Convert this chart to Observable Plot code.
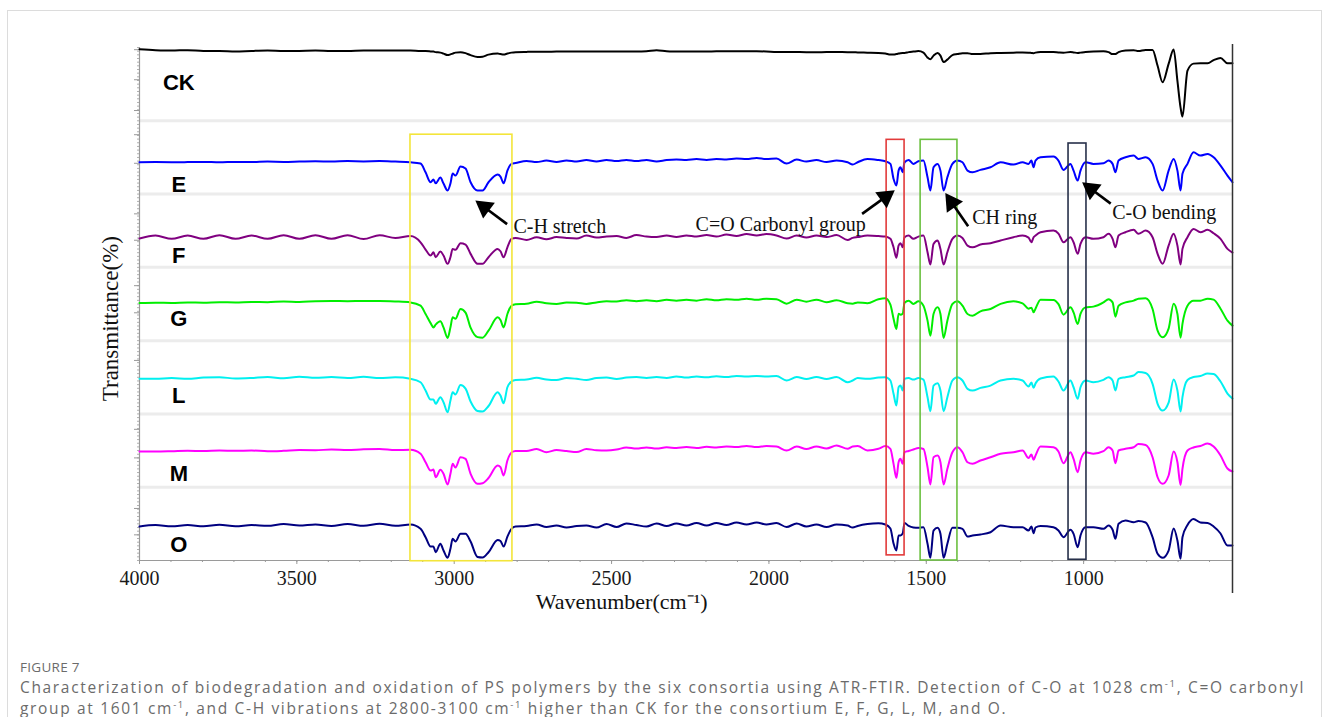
<!DOCTYPE html>
<html>
<head>
<meta charset="utf-8">
<script src="https://cdn.jsdelivr.net/npm/d3@7"></script>
<script src="https://cdn.jsdelivr.net/npm/@observablehq/plot@0.6"></script>
<style>
  html, body { margin: 0; padding: 0; background: #fff; }
  #frame { position: absolute; left: 7px; top: 10px; width: 1315px; height: 740px; border: 1px solid #dcdcdc; box-sizing: border-box; }
  #chart { position: absolute; left: 0; top: 0; }
  #caption { position: absolute; left: 20px; top: 658px; font-family: "Open Sans", sans-serif; color: #6b6b6b; white-space: nowrap; }
  #caption .fig { font-size: 13.5px; letter-spacing: 0.3px; line-height: 18px; }
  #caption .txt { font-size: 15.5px; line-height: 21px; margin-top: 1px; }
  #caption .txt span { display: inline-block; line-height: 21px; }
  #caption sup { font-size: 9.5px; line-height: 0; vertical-align: 6px; }
</style>
</head>
<body>
<div id="frame"></div>
<div id="chart"></div>
<div id="caption">
  <div class="fig">FIGURE 7</div>
  <div class="txt"><span id="cap1">Characterization of biodegradation and oxidation of PS polymers by the six consortia using ATR-FTIR. Detection of C-O at 1028 cm<sup>-1</sup>, C=O carbonyl</span><br><span id="cap2">group at 1601 cm<sup>-1</sup>, and C-H vibrations at 2800-3100 cm<sup>-1</sup> higher than CK for the consortium E, F, G, L, M, and O.</span></div>
</div>
<script>
// ---------- data ----------
const wavenumbers = [
  4000,3949,3898,3847,3797,3746,3695,3644,3593,3542,3492,3441,3390,3339,3288,3237,3187,3139,
  3107,3091,3075,3066,3059,3044,3034,3021,3012,3005,2996,2980,2964,2948,2926,2910,2891,2862,2853,2843,2831,2818,2805,
  2770,2738,2707,2675,2643,2611,2580,2548,2516,2484,2453,2421,2389,2357,2325,2294,2262,2230,2198,2167,2135,2103,2071,2039,2008,1976,1944,1912,1881,1849,1817,1785,
  1750,1734,1718,1687,1652,
  1630,1614,1604,1595,1588,1582,1575,1569,
  1556,1541,1525,1509,1496,1487,1477,1464,1455,1445,1433,1417,1401,
  1385,1369,1353,1328,1296,1264,1223,1194,
  1175,1166,1159,1153,1137,1096,1080,1064,1042,1032,1019,1010,994,
  969,937,921,908,899,889,867,841,826,803,
  781,765,749,730,714,702,692,686,670,651,629,606,587,565,543,527
];

// relative transmittance (%) of each spectrum inside its own strip
const CK = [
  97.6,96.4,95.8,96.4,95.1,95.1,94.4,95.3,95.8,95.1,95.3,95.8,95.3,95.3,95.8,95.8,95.8,95.8,
  95.1,95.1,94.7,94.4,93.7,93.0,91.7,89.6,90.6,91.7,93.0,93.6,92.3,89.6,87.1,87.5,90.3,91.7,91.0,90.3,91.7,93.0,93.6,
  94.0,94.2,94.2,94.4,94.4,94.4,94.4,94.4,94.4,94.6,94.6,94.6,95.0,96.4,95.0,94.6,94.4,94.6,94.6,94.8,94.8,94.8,94.8,94.8,94.6,94.0,94.0,93.8,93.6,93.5,93.8,93.8,
  93.6,93.6,93.3,93.0,92.6,
  91.7,90.3,90.3,91.0,91.7,92.3,92.6,92.6,
  93.7,94.4,95.1,93.0,86.2,83.9,88.9,92.6,88.9,80.1,83.5,89.6,91.0,
  92.3,92.3,91.0,91.0,92.3,92.6,93.0,93.3,
  93.0,92.6,92.3,93.0,93.7,93.7,93.3,93.0,93.7,93.3,92.6,93.0,93.7,
  94.4,94.8,93.7,91.0,91.0,93.7,95.8,96.4,95.1,96.7,
  96.7,75.0,52.5,77.6,97.4,54.3,18.0,5.7,68.5,78.0,78.6,78.6,82.8,85.8,78.4,78.4
];
const E = [
  43.4,43.6,43.4,43.6,43.9,43.4,43.9,43.6,44.3,43.9,44.3,44.7,44.3,45.0,44.6,45.0,44.3,43.4,
  41.6,29.7,16.1,19.8,14.7,22.5,14.3,4.8,14.3,28.0,25.2,37.5,34.8,16.1,4.8,4.8,16.1,26.6,23.9,14.7,32.0,41.2,42.3,
  45.0,43.6,45.7,43.9,45.7,44.3,46.4,44.3,46.4,45.0,46.6,45.0,46.4,44.6,46.4,47.1,46.4,47.7,46.4,47.7,47.1,48.4,47.7,49.1,47.7,48.4,41.6,47.1,44.3,46.4,43.6,45.7,
  43.4,40.2,43.4,48.0,46.4,
  44.7,41.2,20.7,11.6,32.0,36.6,29.7,43.4,
  46.6,41.2,44.7,45.7,22.9,4.8,36.6,41.2,32.0,4.8,22.9,41.2,45.7,
  43.4,32.0,29.7,33.0,36.6,43.4,40.2,43.4,
  41.2,45.7,36.6,45.7,50.2,51.2,45.7,33.0,41.2,32.0,18.4,32.0,43.4,
  41.2,42.0,45.7,41.2,29.7,45.7,50.2,52.5,48.0,50.2,
  41.2,18.4,4.8,32.0,48.0,32.0,4.8,27.6,41.2,57.0,52.5,54.8,50.2,38.9,25.2,16.1
];
const F = [
  39.3,43.4,38.9,43.4,38.9,43.8,38.9,43.4,38.9,43.8,38.9,43.8,38.9,43.8,38.6,43.8,40.0,42.7,
  34.2,24.3,16.1,20.6,13.8,21.6,16.1,4.8,13.8,25.2,23.9,32.9,31.1,18.4,4.8,4.8,13.8,25.2,22.0,13.8,27.4,38.9,40.2,
  37.5,41.1,38.3,41.3,40.0,39.3,43.4,40.6,42.0,42.7,40.2,44.0,42.0,41.3,43.4,41.3,43.4,42.0,44.0,42.0,44.7,42.7,45.4,43.4,45.4,43.4,39.3,43.4,40.6,43.4,41.3,44.0,
  37.5,40.2,41.3,43.4,42.7,
  42.0,38.9,27.4,13.0,29.7,32.9,27.4,41.1,
  43.4,38.9,42.0,43.4,20.6,3.8,32.0,36.6,25.2,3.8,20.6,38.9,43.4,
  40.2,29.7,27.4,31.1,32.9,36.6,41.1,43.4,
  40.6,34.2,41.1,43.4,47.9,50.2,46.1,34.2,41.1,34.2,18.4,32.0,41.1,
  38.9,41.1,45.7,38.9,27.4,43.4,47.9,51.2,45.7,50.2,
  41.1,18.4,4.8,29.7,45.7,29.7,3.8,25.2,41.1,52.5,47.9,51.2,46.5,38.9,25.2,20.2
];
const G = [
  51.4,51.8,51.4,52.2,51.8,52.5,52.2,52.9,52.5,53.5,52.9,53.9,54.2,53.9,54.2,54.2,53.5,52.2,
  47.7,36.4,23.9,18.1,21.8,26.3,18.1,3.7,18.1,31.8,30.0,43.2,38.2,17.7,4.8,4.1,13.6,31.8,28.2,18.1,36.4,47.7,49.8,
  50.5,53.2,51.1,50.1,52.2,51.8,50.1,52.1,53.6,53.5,55.2,53.9,55.2,53.9,55.9,54.6,55.9,54.6,56.6,55.2,56.6,55.9,57.3,55.9,57.3,56.6,50.5,55.9,53.2,55.9,52.5,55.2,
  51.1,50.5,52.2,51.1,56.6,
  58.0,49.1,30.0,16.0,36.8,35.5,36.8,51.8,
  54.6,50.1,53.6,47.7,27.3,6.8,36.4,45.4,36.4,3.7,27.3,50.1,53.6,
  47.7,36.4,34.1,40.0,43.2,50.1,53.6,50.9,
  43.6,45.0,38.6,43.6,55.9,55.5,49.8,35.5,45.4,38.6,22.8,36.4,45.4,
  46.4,52.2,56.6,52.2,32.7,47.7,52.2,54.6,57.3,58.0,
  43.2,13.6,4.5,16.4,50.5,36.4,4.1,22.8,47.7,54.6,54.6,57.3,55.9,43.6,27.3,20.5
];
const L = [
  47.9,47.9,49.0,47.9,49.6,50.1,48.3,49.0,50.3,48.6,50.6,49.2,50.3,49.0,50.6,49.0,49.9,47.9,
  43.2,31.9,19.6,19.6,13.8,22.8,16.0,2.3,18.3,29.6,26.5,39.4,34.6,16.9,4.0,3.3,10.8,29.6,25.1,14.6,36.4,44.2,46.2,
  46.9,49.2,46.9,46.2,49.0,47.9,46.2,49.0,49.6,47.6,49.6,50.3,49.0,50.3,49.0,51.0,49.6,51.0,49.9,51.3,50.3,51.7,51.0,51.7,51.0,51.7,45.6,50.3,47.6,50.3,47.6,50.3,
  43.2,45.6,49.0,47.9,49.6,
  50.1,45.6,27.4,11.5,36.4,38.7,31.9,47.9,
  49.0,46.9,49.0,46.9,22.8,3.7,38.7,41.9,31.9,3.7,22.8,45.6,50.1,
  45.6,34.2,31.9,35.6,38.7,45.6,47.9,45.6,
  37.4,42.8,35.6,41.5,48.3,51.0,44.2,31.9,45.6,36.4,20.6,36.4,45.6,
  43.2,46.5,50.1,45.6,31.9,47.9,50.1,52.4,57.2,55.8,
  41.1,13.8,4.6,15.5,46.9,31.9,3.3,22.8,46.2,50.3,51.7,55.1,54.4,44.2,27.8,21.0
];
const M = [
  48.7,48.7,49.1,49.7,49.4,50.1,49.7,50.1,49.1,49.7,50.7,50.5,51.4,50.7,51.8,52.1,50.7,51.0,
  45.6,34.1,22.8,24.1,13.6,23.7,18.3,3.7,18.3,31.9,26.9,40.9,38.7,18.3,4.6,5.5,12.5,29.6,27.3,16.0,36.4,47.3,49.4,
  49.4,52.1,47.7,50.7,49.4,48.0,52.1,50.5,50.1,51.4,54.2,52.8,54.2,52.8,54.4,53.5,54.8,53.5,55.1,54.2,55.5,54.8,56.2,54.8,56.2,55.5,50.1,55.5,52.1,55.5,52.8,56.9,
  52.4,55.5,56.2,50.1,52.4,
  56.2,52.4,31.9,12.8,34.1,38.7,31.9,47.7,
  49.4,51.4,53.5,52.1,27.3,3.7,40.9,43.2,34.1,3.7,25.1,47.7,54.6,
  47.7,34.1,31.9,36.4,40.9,45.6,47.7,50.1,
  39.8,44.6,37.4,43.2,55.5,54.6,48.7,32.7,47.7,38.7,20.5,36.4,47.7,
  45.6,49.1,54.6,50.1,32.7,50.1,52.4,54.6,58.9,57.6,
  40.9,13.6,4.6,16.0,48.7,34.1,3.0,25.1,50.1,54.2,56.2,59.6,55.5,43.2,25.5,21.4
];
const O = [
  46.4,48.4,46.7,48.4,46.7,48.8,46.7,48.4,47.3,49.8,47.7,49.1,47.1,49.8,47.3,50.1,47.3,49.1,
  43.2,31.8,19.1,19.1,11.3,22.8,13.6,3.7,16.0,29.6,25.9,36.4,36.4,25.9,4.8,4.1,11.3,28.0,26.6,19.1,32.7,43.2,46.4,
  47.1,49.1,45.7,47.7,45.0,47.1,47.7,45.0,49.8,45.7,50.5,48.4,46.4,50.5,47.1,50.5,47.7,51.2,47.7,51.2,48.4,51.8,49.1,51.8,49.1,51.2,45.7,50.5,46.4,49.1,45.7,49.1,
  47.7,45.0,47.1,49.8,50.9,
  49.1,43.6,23.2,13.6,34.1,34.1,36.8,51.2,
  47.1,45.0,44.6,45.4,22.8,3.7,40.9,44.6,36.4,3.7,22.8,44.6,44.6,
  43.2,32.7,34.1,35.5,38.6,47.7,45.4,45.4,
  40.9,46.4,37.2,45.0,47.1,45.4,40.9,31.8,41.9,36.4,18.1,34.1,45.4,
  45.4,43.2,47.7,41.9,29.6,50.1,54.6,52.2,53.9,51.8,
  31.8,9.1,3.7,13.6,43.6,27.3,2.3,31.8,48.4,56.6,51.8,51.2,46.4,36.8,20.5,20.5
];

const seriesNames = ["CK", "E", "F", "G", "L", "M", "O"];
const seriesValues = [CK, E, F, G, L, M, O];
const seriesColors = ["#000000", "#0000ff", "#800080", "#00ee00", "#00f0f0", "#ff00ff", "#000080"];

const xTicks = [4000, 3500, 3000, 2500, 2000, 1500, 1000];

// highlighted bands (wavenumber ranges) and their colours
const boxFrom  = [3139, 1626, 1518, 1048];
const boxTo    = [2815, 1569, 1401,  991];
const boxColor = ["#f3e53a", "#e23b3b", "#6cc040", "#27304a"];

// annotation labels
const noteText = ["C-H stretch", "C=O Carbonyl group", "CH ring", "C-O bending"];

// ---------- layout ----------
const W = 1330, H = 620;
const mL = 139, mR = 98, mT = 47, mB = 60;
const xDomain = [4000, 527];
const nStrips = seriesNames.length;
const yDomain = [0, nStrips * 100];

for (const v of seriesValues) if (v.length !== wavenumbers.length) throw new Error("length mismatch " + v.length);

// stack: CK on top, O at bottom
const rows = seriesNames.map((name, k) => {
  const level = nStrips - 1 - k;
  return wavenumbers.map((w, i) => ({series: name, w, t: seriesValues[k][i] + level * 100}));
});

const sx = Plot.scale({x: {domain: xDomain, range: [mL, W - mR]}});
const sy = Plot.scale({y: {domain: yDomain, range: [H - mB, mT]}});

// boxes: [y1, y2] in strip units
const boxY = [[-1, 581], [7, 574], [0, 574], [1, 569]];
const boxes = boxFrom.map((f, i) => ({x1: f, x2: boxTo[i], y1: boxY[i][0], y2: boxY[i][1], c: boxColor[i]}));

// arrows: tail -> tip in data units
const arrowGeom = [
  {x1: 2832, y1: 459, x2: 2932, y2: 491},
  {x1: 1704, y1: 473, x2: 1601, y2: 505},
  {x1: 1367, y1: 456, x2: 1439, y2: 501},
  {x1: 914,  y1: 487, x2: 1004, y2: 516}
];
const headOffset = 11;
const arrows = arrowGeom.map(a => {
  const px0 = sx.apply(a.x1), py0 = sy.apply(a.y1);
  const px1 = sx.apply(a.x2), py1 = sy.apply(a.y2);
  const dx = px1 - px0, dy = py1 - py0, len = Math.hypot(dx, dy);
  const ux = dx / len, uy = dy / len;
  const hx = px1 - ux * headOffset, hy = py1 - uy * headOffset;
  return {x1: a.x1, y1: a.y1, hx: sx.invert(hx), hy: sy.invert(hy),
          angle: Math.atan2(ux, -uy) * 180 / Math.PI};
});

const notes = [
  {text: noteText[0], x: 2812, y: 456},
  {text: noteText[1], x: 2233, y: 458},
  {text: noteText[2], x: 1354, y: 468},
  {text: noteText[3], x: 909,  y: 475}
];

const labelY = [652, 513, 416, 330, 225, 118, 21];
const labels = seriesNames.map((n, k) => ({n, x: 3875, y: labelY[k]}));

const yMajor = [697, 656, 614, 581, 542, 473, 437, 375, 338, 273, 179, 140, 71, 35];
const yMinor = d3.range(0, 701, 5);
const xMinor = d3.range(600, 4001, 100);

const serif = "Liberation Serif, Times New Roman, serif";

const marks = [
  // strip separators
  Plot.ruleY(d3.range(1, nStrips), {y: d => d * 100, x1: xDomain[0], x2: xDomain[1], stroke: "#ececec", strokeWidth: 3}),
  // left axis
  Plot.axisY({ticks: yMinor, tickSize: 2, tickFormat: () => "", stroke: "#b0b0b0"}),
  Plot.axisY({ticks: yMajor, tickSize: 5, tickFormat: () => "", stroke: "#999"}),
  Plot.ruleX([xDomain[0]], {y1: 0, y2: 700, stroke: "#9a9a9a", strokeWidth: 1.2}),
  // bottom axis
  Plot.ruleY([0], {x1: xDomain[0], x2: xDomain[1], stroke: "#9a9a9a", strokeWidth: 1.2}),
  Plot.axisX({ticks: xMinor, tickSize: 2, tickFormat: () => "", stroke: "#999"}),
  Plot.axisX({ticks: xTicks, tickSize: 4, tickPadding: 6, stroke: "#999", fontSize: 20, fill: "#1a1a1a", tickFormat: d => String(d)}),
  // spectra
  ...rows.map((r, k) => Plot.line(r, {x: "w", y: "t", stroke: seriesColors[k], strokeWidth: 2, curve: "monotone-x"})),
  // highlight boxes
  Plot.rect(boxes, {x1: "x1", x2: "x2", y1: "y1", y2: "y2", fill: "none", stroke: "c", strokeWidth: 1.6}),
  // right border
  Plot.ruleX([xDomain[1]], {y1: -45, y2: 704, stroke: "#333", strokeWidth: 1.5}),
  // series labels
  Plot.text(labels, {x: "x", y: "y", text: "n", fontSize: 22, fontWeight: "bold", fontFamily: "Liberation Sans, Arial, sans-serif", fill: "#000"}),
  // annotation arrows
  Plot.link(arrows, {x1: "x1", y1: "y1", x2: "hx", y2: "hy", stroke: "#000", strokeWidth: 2.6}),
  Plot.dot(arrows, {x: "hx", y: "hy", symbol: "triangle", r: 7.3, rotate: "angle", fill: "#000", stroke: "none"}),
  Plot.text(notes, {x: "x", y: "y", text: "text", textAnchor: "start", fontSize: 20, fontFamily: serif, fill: "#111"}),
  // axis titles
  Plot.text(["Wavenumber(cm⁻¹)"], {x: 2468, frameAnchor: "bottom", dy: 48, fontSize: 22, fontFamily: serif, fill: "#111"}),
  Plot.text(["Transmittance(%)"], {y: 330, frameAnchor: "left", textAnchor: "middle", dx: -29, rotate: -90, fontSize: 23, fontFamily: serif, fill: "#111"})
];

const chart = Plot.plot({
  width: W, height: H,
  marginLeft: mL, marginRight: mR, marginTop: mT, marginBottom: mB,
  x: {domain: xDomain, axis: null},
  y: {domain: yDomain, axis: null},
  color: {type: "identity"},
  style: {fontFamily: serif, background: "transparent", overflow: "visible"},
  marks
});
document.getElementById("chart").appendChild(chart);

// fit the first caption line to the reference width
const cap1 = document.getElementById("cap1");
const cap2 = document.getElementById("cap2");
const target = 1285;
const w0 = cap1.getBoundingClientRect().width;
const n1 = cap1.textContent.length;
const ls = (target - w0) / n1;
cap1.style.letterSpacing = ls + "px";
cap2.style.letterSpacing = ls + "px";
</script>
</body>
</html>
